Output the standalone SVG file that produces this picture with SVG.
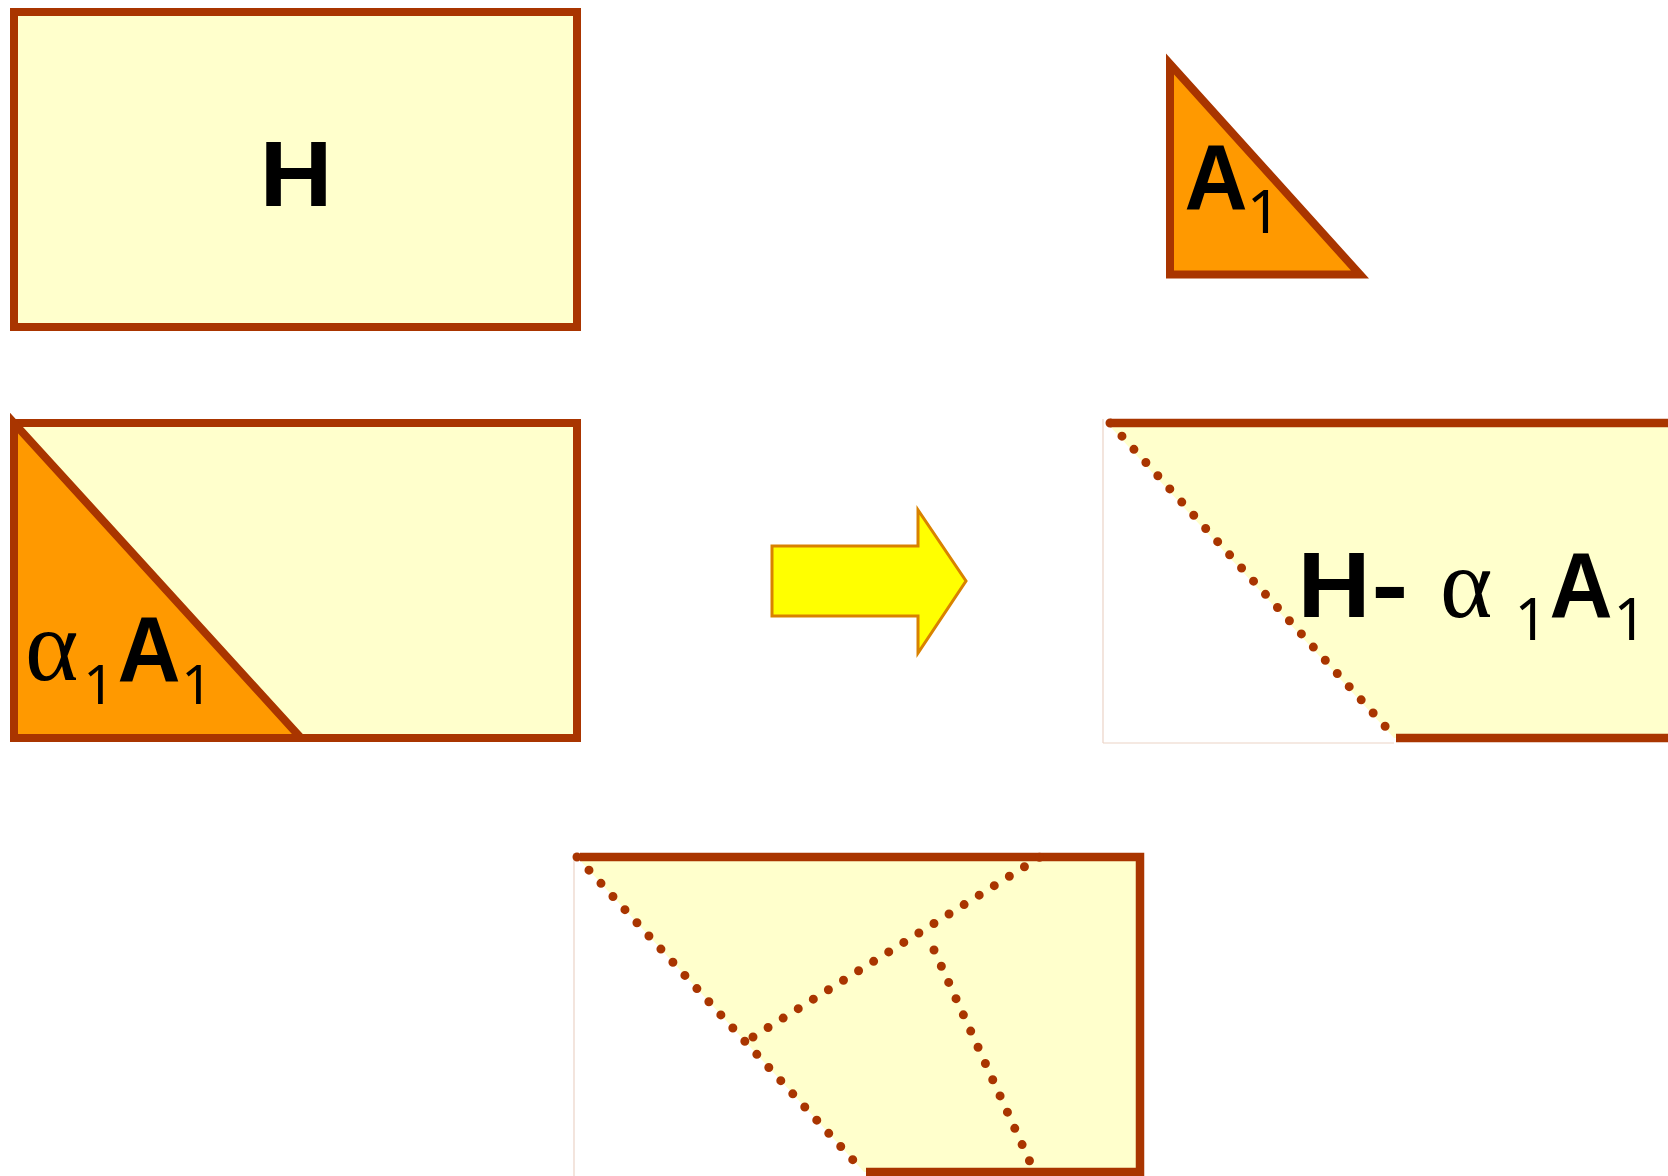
<svg xmlns="http://www.w3.org/2000/svg" width="1668" height="1176" viewBox="0 0 1668 1176">
<style>
.box{fill:#FFFFCC;stroke:#A93500;stroke-width:8;stroke-linejoin:miter;stroke-miterlimit:10}
.tri{fill:#FF9900;stroke:#A93500;stroke-width:8;stroke-linejoin:miter;stroke-miterlimit:10}
.edge{fill:none;stroke:#A93500;stroke-width:8.5;stroke-linejoin:miter;stroke-linecap:butt}
.dots{fill:none;stroke:#A93500;stroke-width:9;stroke-linecap:round;stroke-dasharray:0 17.8}
.faint{fill:none;stroke:#EBD3C6;stroke-width:1.2}
.b{font-family:"Liberation Sans",Arial,sans-serif;font-weight:bold;fill:#000}
.n{font-family:"Noto Sans","Liberation Sans",sans-serif;font-weight:normal;fill:#000}
.g{font-family:"Liberation Serif","Times New Roman",serif;font-weight:normal;fill:#000}
</style>
<rect width="1668" height="1176" fill="#FFFFFF"/>

<g id="node-H">
<rect class="box" x="14" y="12" width="563" height="315"/>
<text class="b" transform="translate(296,206) scale(1.1,1)" x="0" y="0" font-size="92" text-anchor="middle">H</text>
</g>

<g id="node-A1">
<polygon class="tri" points="1170,64 1170,274.5 1360,274.5"/>
<text class="b" transform="translate(1216,208.5) scale(0.95,1)" x="0" y="0" font-size="92" text-anchor="middle">A</text>
<text class="n" x="1264" y="233" font-size="60" text-anchor="middle">1</text>
</g>

<g id="node-alphaA1">
<rect class="box" x="14" y="423" width="563" height="315"/>
<polygon class="tri" points="14,423 14,738 301,738"/>
<text class="g" x="25" y="680" font-size="102">α</text>
<text class="n" x="99" y="704" font-size="55" text-anchor="middle">1</text>
<text class="b" transform="translate(149,681) scale(0.95,1)" x="0" y="0" font-size="92" text-anchor="middle">A</text>
<text class="n" x="197" y="704" font-size="55" text-anchor="middle">1</text>
</g>

<g id="connectors">
<polygon points="772,546 918,546 918,510 966,581 918,653 918,616 772,616" fill="#FFFF00" stroke="#D98200" stroke-width="3" stroke-linejoin="miter"/>
</g>

<g id="node-result">
<line class="faint" x1="1103" y1="419" x2="1103" y2="743"/>
<line class="faint" x1="1103" y1="743" x2="1394" y2="743"/>
<polygon points="1107,423 1670,423 1670,738 1394,738" fill="#FFFFCC"/>
<line class="edge" x1="1110" y1="423" x2="1672" y2="423"/>
<line class="edge" x1="1396" y1="738" x2="1672" y2="738"/>
<line class="dots" x1="1110" y1="423" x2="1394" y2="736"/>
<text class="b" transform="translate(1334,617) scale(1.1,1)" x="0" y="0" font-size="92" text-anchor="middle">H</text>
<text class="b" transform="translate(1390,617) scale(1.2,1)" x="0" y="0" font-size="92" text-anchor="middle">-</text>
<text class="g" x="1440" y="617" font-size="100">α</text>
<text class="n" x="1531" y="640" font-size="58" text-anchor="middle">1</text>
<text class="b" transform="translate(1581,617) scale(0.95,1)" x="0" y="0" font-size="92" text-anchor="middle">A</text>
<text class="n" x="1630" y="640" font-size="58" text-anchor="middle">1</text>
</g>

<g id="node-partition">
<line class="faint" x1="574" y1="853" x2="574" y2="1176"/>
<polygon points="577,857 1140,857 1140,1172 864,1172" fill="#FFFFCC"/>
<path class="edge" d="M580,857 H1140 V1172 H866"/>
<line class="dots" x1="577" y1="857" x2="864" y2="1172"/>
<line class="dots" x1="753" y1="1037" x2="1040" y2="857"/>
<line class="dots" x1="934" y1="950" x2="1030" y2="1162"/>
</g>
</svg>
